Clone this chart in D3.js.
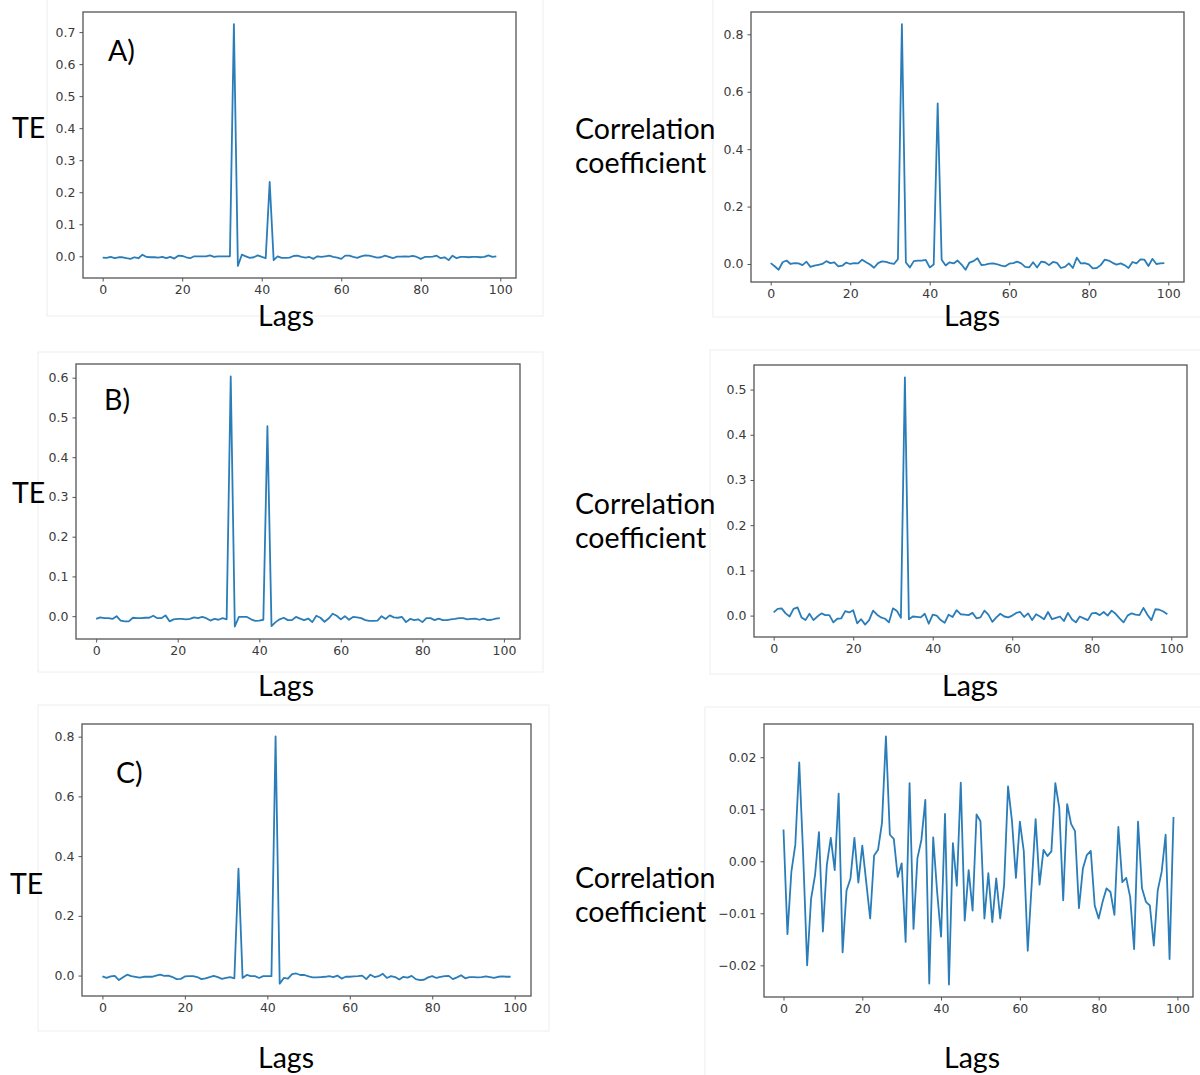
<!DOCTYPE html>
<html>
<head>
<meta charset="utf-8">
<script src="https://cdn.jsdelivr.net/npm/d3@7"></script>
<style>
body{margin:0;background:#fff;}
.tick text{font-family:"DejaVu Sans",sans-serif;font-size:12.5px;fill:#3a3a3a;}
.tick line{stroke:#555;}
.big{font-family:Lato,"Open Sans",sans-serif;font-size:28.5px;fill:#000;}
</style>
</head>
<body>
<script>
const width=1200, height=1075;

// lags shown on the x axis
const lags = d3.range(100);
const xTicks = [0,20,40,60,80,100];

// A) transfer entropy
const teA = [-0.004,-0.005,-0.002,-0.006,-0.003,-0.003,-0.006,-0.008,-0.003,-0.006,
  0.005,-0.002,-0.003,-0.003,-0.004,-0.002,-0.006,-0.002,-0.007,0.002,
  0.001,-0.003,-0.006,0,0,0,0,0.003,-0.002,0,
  0,0,0,0.725,-0.03,0.005,0,-0.005,-0.003,0.003,
  -0.002,-0.006,0.232,-0.012,0,-0.005,-0.005,-0.004,0.001,0.002,
  -0.002,-0.004,-0.002,-0.008,0,-0.002,0,0.002,-0.002,-0.004,
  -0.008,0.002,0.002,-0.002,-0.005,0,0.003,0.002,-0.001,-0.004,
  -0.003,0.002,-0.002,-0.006,-0.001,-0.001,0,-0.001,0.001,-0.002,
  -0.008,-0.002,-0.002,-0.001,0.002,-0.006,-0.003,-0.012,0.002,-0.006,
  -0.002,-0.002,-0.003,-0.002,-0.002,-0.003,-0.002,0.003,-0.002,0];
// A) correlation coefficient
const corrA = [0.003,-0.008,-0.02,0.006,0.012,0,0.003,0.002,-0.004,0.008,
  -0.01,-0.006,-0.003,0,0.01,0.003,0.006,-0.008,-0.006,0.005,
  0,0.003,0.002,0.015,0.006,-0.002,-0.013,0.003,0.009,0.007,
  0.003,0,0.017,0.835,0.005,-0.012,0.01,0.012,0.012,0.014,
  -0.012,-0.002,0.559,0.015,-0.005,0.006,0.002,0.012,-0.002,-0.02,
  0.005,0.01,0.02,-0.004,-0.002,0.001,0.002,-0.001,-0.006,-0.008,
  0.001,0.003,0.008,0.002,-0.01,-0.012,0.006,-0.012,0.008,0.006,
  -0.004,0.007,0.004,-0.014,-0.01,0.002,-0.014,0.022,0.002,0.003,
  -0.001,-0.015,-0.014,-0.004,0.015,0.012,0.004,-0.002,0.002,-0.004,
  -0.014,0.007,0.002,0.016,0.015,-0.007,0.018,0,0.002,0.003];

// B) transfer entropy
const teB = [-0.007,-0.003,-0.005,-0.005,-0.007,0,-0.011,-0.013,-0.013,-0.004,
  -0.005,-0.005,-0.004,-0.004,0.001,-0.005,-0.005,0.002,-0.013,-0.008,
  -0.007,-0.007,-0.008,-0.007,-0.003,-0.005,-0.002,-0.005,-0.011,-0.007,
  -0.009,-0.005,-0.008,0.603,-0.026,-0.002,-0.002,-0.002,-0.008,-0.012,
  -0.011,-0.009,0.478,-0.025,-0.015,-0.008,-0.004,-0.01,-0.01,-0.002,
  -0.006,-0.01,-0.006,-0.015,0.001,-0.004,-0.014,-0.006,0.006,0.001,
  -0.008,0,-0.009,-0.002,-0.003,-0.005,-0.01,-0.012,-0.012,-0.011,
  0,-0.007,0.002,-0.003,-0.004,-0.002,-0.015,-0.007,-0.01,-0.008,
  -0.015,-0.005,-0.005,-0.01,-0.006,-0.01,-0.01,-0.008,-0.007,-0.005,
  -0.005,-0.008,-0.007,-0.006,-0.009,-0.006,-0.01,-0.009,-0.006,-0.005];
// B) correlation coefficient
const corrB = [0.007,0.015,0.016,0.005,-0.002,0.015,0.018,-0.004,-0.01,0.004,
  -0.01,-0.002,0.005,0.001,0.001,-0.015,-0.007,-0.006,0.01,0.007,
  0.012,-0.017,-0.008,-0.02,-0.01,0.011,0.002,-0.004,-0.007,-0.015,
  0.016,0.01,-0.005,0.527,-0.008,-0.002,-0.003,-0.004,0.004,-0.018,
  0.002,0,-0.01,-0.016,0.002,-0.003,0.012,0.003,0.002,0.001,
  0.006,-0.006,-0.004,0.011,0.002,-0.014,-0.004,0.004,-0.002,-0.004,
  0,0.006,0.008,-0.003,0.005,-0.01,0.003,-0.002,-0.008,0.008,
  -0.008,-0.005,-0.002,-0.012,0.006,-0.008,-0.015,-0.002,-0.006,-0.01,
  0.005,0.006,0.001,0.008,0,0.011,0.004,-0.006,-0.015,0,
  0.005,0.002,0.001,0.017,0.002,-0.01,0.014,0.013,0.009,0.003];

// C) transfer entropy
const teC = [-0.003,-0.008,-0.003,-0.001,-0.015,-0.006,0.003,-0.002,-0.004,-0.007,
  -0.004,-0.004,-0.004,0,0.003,-0.001,0,-0.005,-0.012,-0.011,
  -0.003,-0.002,-0.002,-0.005,-0.012,-0.009,-0.005,-0.001,-0.005,-0.011,
  -0.008,-0.005,-0.009,0.358,-0.008,0.002,-0.002,-0.002,-0.008,-0.002,
  -0.002,-0.002,0.801,-0.027,-0.008,-0.01,0.005,0.007,0.002,0.002,
  -0.003,-0.006,-0.006,-0.005,-0.004,-0.002,-0.005,0,-0.01,-0.004,
  -0.004,-0.003,-0.002,0,-0.012,0.003,-0.005,-0.002,0.006,-0.008,
  -0.002,-0.005,-0.013,-0.004,-0.007,-0.001,-0.012,-0.015,-0.014,-0.006,
  -0.002,-0.008,-0.004,-0.002,-0.001,-0.012,-0.006,0.001,-0.009,-0.005,
  -0.005,-0.006,-0.005,-0.003,-0.005,-0.008,-0.004,-0.003,-0.004,-0.004];
// C) correlation coefficient
const corrC = [0.0061,-0.014,-0.002,0.0032,0.019,0.001,-0.020,-0.0072,-0.0027,0.0056,
  -0.0135,-0.0007,0.0045,-0.0017,0.013,-0.0175,-0.0056,-0.0033,0.0045,-0.0041,
  0.003,-0.004,-0.011,0.0011,0.0022,0.0074,0.024,0.0051,0.0043,-0.003,
  -0.0004,-0.0155,0.015,-0.013,0.0006,0.0041,0.0118,-0.0235,0.0046,-0.0059,
  -0.0145,0.0091,-0.0237,0.0035,-0.0047,0.0151,-0.0114,-0.0017,-0.0095,0.009,
  0.0077,-0.011,-0.0023,-0.0117,-0.0033,-0.011,-0.0046,0.0144,0.0077,-0.0032,
  0.0076,0.0019,-0.0172,-0.0045,0.0081,-0.0045,0.0022,0.001,0.0019,0.015,
  0.0103,-0.0075,0.011,0.0072,0.0058,-0.009,-0.0014,0.0012,0.002,-0.0085,
  -0.011,-0.0078,-0.0052,-0.0059,-0.0103,0.0066,-0.004,-0.0032,-0.0069,-0.0169,
  0.0076,-0.0052,-0.0078,-0.0085,-0.0162,-0.0056,-0.002,0.0051,-0.0188,0.0085];

// y tick values per panel
const yTicksTeA = [0,0.1,0.2,0.3,0.4,0.5,0.6,0.7];
const yTicksCorrA = [0,0.2,0.4,0.6,0.8];
const yTicksTeB = [0,0.1,0.2,0.3,0.4,0.5,0.6];
const yTicksCorrB = [0,0.1,0.2,0.3,0.4,0.5];
const yTicksTeC = [0,0.2,0.4,0.6,0.8];
const yTicksCorrC = [-0.02,-0.01,0,0.01,0.02];

const panels = [
  {data:teA, ticks:yTicksTeA, fmt:'.1f', frame:[47,-2,543,316], box:[83,12,516,278],
   ylab:['TE'], ylabX:12, ylabY:[138], letter:'A)', letterXY:[108,61], lagsXY:[286,326]},
  {data:corrA, ticks:yTicksCorrA, fmt:'.1f', frame:[713,-2,1202,317], box:[751,12,1184,282],
   ylab:['Correlation','coefficient'], ylabX:575, ylabY:[139,173], lagsXY:[972,326]},
  {data:teB, ticks:yTicksTeB, fmt:'.1f', frame:[38,352,543,672], box:[76,364,520,639],
   ylab:['TE'], ylabX:12, ylabY:[503], letter:'B)', letterXY:[104,410], lagsXY:[286,696]},
  {data:corrB, ticks:yTicksCorrB, fmt:'.1f', frame:[710,350,1202,674], box:[754,365,1187,637],
   ylab:['Correlation','coefficient'], ylabX:575, ylabY:[514,548], lagsXY:[970,696]},
  {data:teC, ticks:yTicksTeC, fmt:'.1f', frame:[38,705,549,1031], box:[82,724,531,996],
   ylab:['TE'], ylabX:10, ylabY:[894], letter:'C)', letterXY:[116,783], lagsXY:[286,1068]},
  {data:corrC, ticks:yTicksCorrC, fmt:'.2f', frame:[705,707,1202,1077], box:[764,724,1193,997],
   ylab:['Correlation','coefficient'], ylabX:575, ylabY:[888,922], lagsXY:[972,1068]}
];

const svg = d3.select('body').append('svg')
  .attr('width',width).attr('height',height);

panels.forEach(p=>{
  const [l,t,r,b] = p.box;
  const g = svg.append('g');

  // faint outline of the pasted figure
  g.append('rect')
    .attr('x',p.frame[0]).attr('y',p.frame[1])
    .attr('width',p.frame[2]-p.frame[0]).attr('height',p.frame[3]-p.frame[1])
    .attr('fill','none').attr('stroke','#eeeeee');

  const xScale = d3.scaleLinear().domain([-4.95,103.95]).range([l,r]);
  const ext = d3.extent(p.data);
  const pad = (ext[1]-ext[0])*0.05;
  const yScale = d3.scaleLinear().domain([ext[0]-pad,ext[1]+pad]).range([b,t]);

  g.append('g').attr('transform',`translate(0,${b})`)
    .call(d3.axisBottom(xScale).tickValues(xTicks).tickSize(3.5).tickPadding(4))
    .call(a=>a.select('.domain').remove());
  g.append('g').attr('transform',`translate(${l},0)`)
    .call(d3.axisLeft(yScale).tickValues(p.ticks).tickFormat(d3.format(p.fmt)).tickSize(3.5).tickPadding(4))
    .call(a=>a.select('.domain').remove());

  g.append('path')
    .datum(p.data)
    .attr('fill','none')
    .attr('stroke','#2a7db8')
    .attr('stroke-width',1.8)
    .attr('stroke-linejoin','round')
    .attr('d',d3.line().x((d,i)=>xScale(lags[i])).y(d=>yScale(d)));

  g.append('rect')
    .attr('x',l).attr('y',t).attr('width',r-l).attr('height',b-t)
    .attr('fill','none').attr('stroke','#555').attr('stroke-width',1.3);

  p.ylab.forEach((s,i)=>{
    g.append('text').attr('class','big').attr('x',p.ylabX).attr('y',p.ylabY[i]).text(s);
  });
  if(p.letter){
    g.append('text').attr('class','big').attr('x',p.letterXY[0]).attr('y',p.letterXY[1]).text(p.letter);
  }
  g.append('text').attr('class','big').attr('text-anchor','middle')
    .attr('x',p.lagsXY[0]).attr('y',p.lagsXY[1]).text('Lags');
});
</script>
</body>
</html>
